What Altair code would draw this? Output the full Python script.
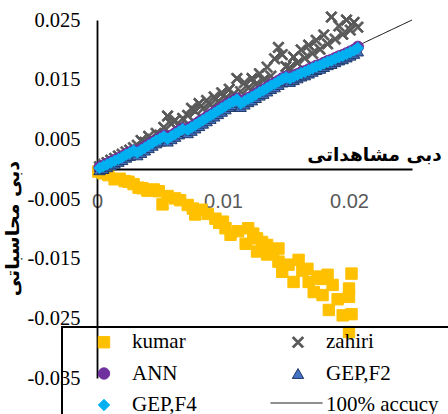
import altair as alt
import pandas as pd

# ---------------- data ----------------
obs = [0.0002, 0.0005, 0.0008, 0.0011, 0.0014, 0.0017, 0.0020, 0.0023, 0.0026, 0.0029,
       0.0032, 0.0035, 0.0038, 0.0041, 0.0044, 0.0047, 0.0050, 0.0053,
       0.0056, 0.0059, 0.0062, 0.0065, 0.0068,
       0.0072, 0.0075, 0.0078, 0.0081, 0.0084, 0.0087, 0.0090, 0.0093, 0.0096, 0.0099, 0.0102, 0.0105, 0.0108, 0.0111,
       0.0114, 0.0117, 0.0120, 0.0123, 0.0126, 0.0129, 0.0132, 0.0135, 0.0138, 0.0141, 0.0144, 0.0147, 0.0150,
       0.0153, 0.0156, 0.0159, 0.0162, 0.0165, 0.0168, 0.0171, 0.0174, 0.0177, 0.0180, 0.0183, 0.0186, 0.0189,
       0.0192, 0.0195, 0.0198, 0.0201, 0.0204, 0.0207]

gep_f4 = [0.0002, 0.0005, 0.0008, 0.0011, 0.0014, 0.0017, 0.0020, 0.0024, 0.0027, 0.0031,
          0.0028, 0.0032, 0.0036, 0.0040, 0.0044, 0.0048, 0.0051, 0.0055,
          0.0051, 0.0055, 0.0059, 0.0063, 0.0067,
          0.0066, 0.0070, 0.0074, 0.0078, 0.0082, 0.0086, 0.0090, 0.0094, 0.0098, 0.0102, 0.0106, 0.0110, 0.0113, 0.0117,
          0.0110, 0.0114, 0.0118, 0.0121, 0.0125, 0.0129, 0.0132, 0.0136, 0.0140, 0.0143, 0.0147, 0.0151, 0.0154,
          0.0152, 0.0155, 0.0158, 0.0161, 0.0163, 0.0166, 0.0169, 0.0172, 0.0174, 0.0177, 0.0180, 0.0182, 0.0185,
          0.0188, 0.0190, 0.0193, 0.0196, 0.0199, 0.0203]

ann = [0.0003, 0.0006, 0.0009, 0.0012, 0.0015, 0.0018, 0.0021, 0.0025, 0.0028, 0.0031,
       0.0029, 0.0033, 0.0037, 0.0041, 0.0045, 0.0048, 0.0052, 0.0056,
       0.0052, 0.0056, 0.0060, 0.0064, 0.0068,
       0.0067, 0.0071, 0.0075, 0.0079, 0.0083, 0.0087, 0.0091, 0.0095, 0.0099, 0.0103, 0.0107, 0.0111, 0.0114, 0.0118,
       0.0111, 0.0115, 0.0119, 0.0122, 0.0126, 0.0130, 0.0133, 0.0137, 0.0141, 0.0144, 0.0148, 0.0152, 0.0155,
       0.0153, 0.0156, 0.0159, 0.0162, 0.0164, 0.0167, 0.0170, 0.0173, 0.0175, 0.0178, 0.0181, 0.0183, 0.0186,
       0.0189, 0.0191, 0.0194, 0.0197, 0.0200, 0.0205]

gep_f2 = [-0.0001, 0.0001, 0.0004, 0.0007, 0.0010, 0.0013, 0.0016, 0.0020, 0.0023, 0.0027,
          0.0024, 0.0028, 0.0032, 0.0036, 0.0040, 0.0044, 0.0047, 0.0051,
          0.0047, 0.0051, 0.0055, 0.0059, 0.0063,
          0.0061, 0.0065, 0.0069, 0.0073, 0.0077, 0.0081, 0.0085, 0.0089, 0.0093, 0.0097, 0.0101, 0.0105, 0.0108, 0.0112,
          0.0105, 0.0109, 0.0113, 0.0116, 0.0120, 0.0124, 0.0127, 0.0131, 0.0135, 0.0138, 0.0142, 0.0146, 0.0149,
          0.0147, 0.0150, 0.0153, 0.0156, 0.0158, 0.0161, 0.0164, 0.0167, 0.0169, 0.0172, 0.0175, 0.0177, 0.0180,
          0.0183, 0.0185, 0.0188, 0.0191, 0.0194, 0.0198]

zahiri = [0.0004, 0.0008, 0.0011, 0.0015, 0.0018, 0.0022, 0.0025, 0.0029, 0.0032, 0.0036,
          0.0040, 0.0048, 0.0045, 0.0055, 0.0050, 0.0060, 0.0057, 0.0070,
          0.0089, 0.0076, 0.0082, 0.0072, 0.0085,
          0.0090, 0.0102, 0.0097, 0.0110, 0.0101, 0.0115, 0.0108, 0.0121, 0.0113, 0.0128, 0.0119, 0.0134, 0.0125, 0.0152,
          0.0130, 0.0145, 0.0136, 0.0152, 0.0142, 0.0160, 0.0149, 0.0171, 0.0156, 0.0185, 0.0204, 0.0192, 0.0172,
          0.0170, 0.0188, 0.0178, 0.0200, 0.0186, 0.0208, 0.0194, 0.0216, 0.0201, 0.0225, 0.0210, 0.0255, 0.0218,
          0.0240, 0.0226, 0.0250, 0.0233, 0.0246, 0.0238]

kumar_obs = [0.0001, 0.0005, 0.0009, 0.0014, 0.0018, 0.0022, 0.0025, 0.0029, 0.0033, 0.0036,
             0.0040, 0.0045, 0.0049, 0.0052, 0.0056, 0.0062, 0.0066, 0.0072, 0.0076, 0.0078,
             0.0083, 0.0088, 0.0094, 0.0097, 0.0100, 0.0102, 0.0106, 0.0112, 0.0118, 0.0120,
             0.0124, 0.0127, 0.0127, 0.0131, 0.0135, 0.0135, 0.0140, 0.0144, 0.0144, 0.0147,
             0.0152, 0.0156, 0.0160, 0.0163, 0.0167, 0.0168, 0.0172, 0.0175, 0.0178, 0.0179,
             0.0183, 0.0184, 0.0187, 0.0191, 0.0195, 0.0200, 0.0200, 0.0202, 0.0202, 0.0200]
kumar = [-0.0004, -0.0007, -0.0010, -0.0017, -0.0016, -0.0020, -0.0021, -0.0025, -0.0031, -0.0032,
         -0.0036, -0.0034, -0.0037, -0.0059, -0.0045, -0.0049, -0.0052, -0.0060, -0.0066, -0.0076,
         -0.0068, -0.0075, -0.0083, -0.0090, -0.0088, -0.0099, -0.0110, -0.0104, -0.0125, -0.0099,
         -0.0108, -0.0116, -0.0138, -0.0122, -0.0127, -0.0143, -0.0135, -0.0133, -0.0155, -0.0172,
         -0.0160, -0.0189, -0.0152, -0.0170, -0.0167, -0.0189, -0.0206, -0.0180, -0.0184, -0.0211,
         -0.0177, -0.0236, -0.0194, -0.0218, -0.0245, -0.0200, -0.0214, -0.0175, -0.0243, -0.0273]

line_x = [0.0, 0.025]
line_y = [0.0, 0.025]

# legend is laid out column by column: kumar/ANN/GEP,F4 | zahiri/GEP,F2/100% accucy
names = ["kumar", "ANN", "GEP,F4", "zahiri", "GEP,F2", "100% accucy"]
fills = ["#FFC000", "#7030A0", "#00B0F0", "#595959", "#4472C4", "transparent"]
strokes = ["#FFC000", "#7030A0", "#00B0F0", "#595959", "#1F3864", "transparent"]
shapes = [
    "square",
    "circle",
    "diamond",
    "M-1,-0.75L-0.75,-1L0,-0.25L0.75,-1L1,-0.75L0.25,0L1,0.75L0.75,1L0,0.25L-0.75,1L-1,0.75L-0.25,0Z",
    "triangle-up",
    "M-1,-1H1V1H-1ZM32,-0.1L32,0.1",
]

ytick_values = [-0.035, -0.025, -0.015, -0.005, 0.005, 0.015, 0.025]
xtick_values = [0, 0.01, 0.02]

frames = [
    pd.DataFrame({"obs": kumar_obs, "pred": kumar, "model": "kumar"}),
    pd.DataFrame({"obs": obs, "pred": zahiri, "model": "zahiri"}),
    pd.DataFrame({"obs": obs, "pred": ann, "model": "ANN"}),
    pd.DataFrame({"obs": obs, "pred": gep_f2, "model": "GEP,F2"}),
    pd.DataFrame({"obs": obs, "pred": gep_f4, "model": "GEP,F4"}),
]
df = pd.concat(frames, ignore_index=True)
line_df = pd.DataFrame({"obs": line_x, "pred": line_y, "ref": "100% accucy"})

# ---------------- chart ----------------
xscale = alt.Scale(domain=[0, 0.025], nice=False, zero=False)
yscale = alt.Scale(domain=[-0.035, 0.025], nice=False, zero=False)

xaxis = alt.Axis(
    values=xtick_values, format="~g", offset=-209, ticks=False, grid=False,
    domainColor="black", domainWidth=1.8, labelFlush=False,
    labelFont="Liberation Sans", labelFontSize=20, labelColor="#595959", labelPadding=22,
    title="دبی مشاهداتی", titleFont="DejaVu Sans", titleFontWeight="bold", titleFontSize=18.5,
    titleColor="black", titleX=277, titleY=-15, titleAlign="center", titleBaseline="middle",
)
yaxis = alt.Axis(
    values=ytick_values, ticks=False, grid=False,
    labelExpr="(datum.value < 0 ? '-' : '') + format(abs(datum.value), '.3f')",
    domainColor="black", domainWidth=1.8,
    labelFont="Liberation Serif", labelFontSize=20.5, labelColor="black", labelPadding=17,
    title="دبی محاسباتی", titleFont="DejaVu Sans", titleFontWeight="bold", titleFontSize=19,
    titleColor="black", titleX=-85, titleY=208, titleAlign="center", titleBaseline="middle",
)

legend_a = alt.Legend(
    title=" ", titleOrient="left", titleFontSize=1, titlePadding=27,
    orient="none", legendX=-35, legendY=307, columns=2,
    columnPadding=90, rowPadding=9.5, padding=4.5,
    strokeColor="black",
    symbolSize=130, symbolStrokeWidth=1, symbolOpacity=1,
    labelFont="Liberation Serif", labelFontSize=21, labelColor="black", labelOffset=17.5,
    labelLimit=500,
)

legend_b = alt.Legend(
    title=None, orient="none", legendX=173, legendY=356.5, padding=0,
    symbolType="stroke", symbolSize=2704, symbolStrokeColor="black", symbolStrokeWidth=1,
    symbolOpacity=1, labelFontSize=1, labelOpacity=0,
)

line = alt.Chart(line_df).mark_line(color="black", strokeWidth=1).encode(
    x=alt.X("obs:Q", scale=xscale, axis=xaxis),
    y=alt.Y("pred:Q", scale=yscale, axis=yaxis),
    strokeDash=alt.StrokeDash("ref:N", scale=alt.Scale(domain=["100% accucy"], range=[[1, 0]]), legend=legend_b),
)

points = alt.Chart(df).mark_point(filled=True, size=130, opacity=1, strokeWidth=1).encode(
    x=alt.X("obs:Q", scale=xscale, axis=xaxis),
    y=alt.Y("pred:Q", scale=yscale, axis=yaxis),
    fill=alt.Fill("model:N", scale=alt.Scale(domain=names, range=fills), legend=legend_a),
    stroke=alt.Stroke("model:N", scale=alt.Scale(domain=names, range=strokes), legend=legend_a),
    shape=alt.Shape("model:N", scale=alt.Scale(domain=names, range=shapes), legend=legend_a),
)

chart = alt.layer(line, points).properties(
    width=315, height=358,
    autosize=alt.AutoSizeParams(type="none"),
    padding={"left": 97, "top": 20, "right": 36, "bottom": 36},
    background="white",
).configure_view(stroke=None).configure_legend(strokeWidth=2)

chart.save("out.html", embed_options={"renderer": "svg", "actions": False})
